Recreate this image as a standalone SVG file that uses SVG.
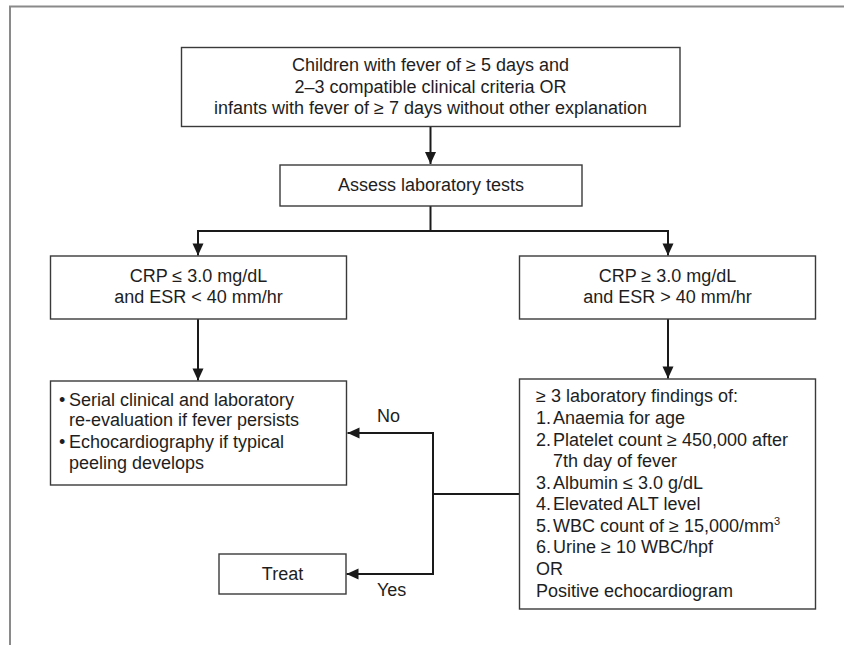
<svg xmlns="http://www.w3.org/2000/svg" width="844" height="645" viewBox="0 0 844 645">
<style>
.box{fill:#fff;stroke:#3a3a3a;stroke-width:1.4}
.t{font-family:"Liberation Sans",Arial,sans-serif;font-size:18px;fill:#1e1e1e}
.c{text-anchor:middle}
.ln{fill:none;stroke:#1a1a1a;stroke-width:2}
.frame{fill:none;stroke:#8a8a8a;stroke-width:2}
</style>
<defs>
<marker id="ah" markerUnits="userSpaceOnUse" markerWidth="14" markerHeight="12" viewBox="0 0 12 12" refX="12" refY="6" orient="auto">
<path d="M0 0.5 L12 6 L0 11.5 Z" fill="#1a1a1a"/>
</marker>
</defs>
<rect width="844" height="645" fill="#fff"/>
<path class="frame" d="M10 645 V6.5 H844"/>

<g id="connectors">
<path class="ln" d="M430.5 127 V164" marker-end="url(#ah)"/>
<path class="ln" d="M430.5 206 V231"/>
<path class="ln" d="M198 231 H668"/>
<path class="ln" d="M198 230 V255.5" marker-end="url(#ah)"/>
<path class="ln" d="M668 230 V255.5" marker-end="url(#ah)"/>
<path class="ln" d="M198 319 V380.5" marker-end="url(#ah)"/>
<path class="ln" d="M668 319 V378.5" marker-end="url(#ah)"/>
<path class="ln" d="M519 494 H433"/>
<path class="ln" d="M433 432 V575"/>
<path class="ln" d="M434 433 H347.5" marker-end="url(#ah)"/>
<path class="ln" d="M434 574 H346.5" marker-end="url(#ah)"/>
<text class="t" x="377" y="422">No</text>
<text class="t" x="377" y="596">Yes</text>
</g>

<g id="n-start">
<rect class="box" x="181.5" y="47.5" width="498.5" height="79"/>
<text class="t c" x="430.5" y="71">Children with fever of ≥ 5 days and</text>
<text class="t c" x="430.5" y="92.5">2–3 compatible clinical criteria OR</text>
<text class="t c" x="430.5" y="114">infants with fever of ≥ 7 days without other explanation</text>
</g>

<g id="n-assess">
<rect class="box" x="280" y="165" width="302" height="41"/>
<text class="t c" x="431" y="191">Assess laboratory tests</text>
</g>

<g id="n-low">
<rect class="box" x="50.5" y="256" width="296" height="63"/>
<text class="t c" x="198.5" y="282">CRP ≤ 3.0 mg/dL</text>
<text class="t c" x="198.5" y="303">and ESR &lt; 40 mm/hr</text>
</g>

<g id="n-high">
<rect class="box" x="519.5" y="256" width="296" height="63"/>
<text class="t c" x="667.5" y="282">CRP ≥ 3.0 mg/dL</text>
<text class="t c" x="667.5" y="303">and ESR &gt; 40 mm/hr</text>
</g>

<g id="n-serial">
<rect class="box" x="50.5" y="381" width="296" height="104"/>
<text class="t" x="59" y="405.5">•</text>
<text class="t" x="69" y="405.5">Serial clinical and laboratory</text>
<text class="t" x="69" y="426">re-evaluation if fever persists</text>
<text class="t" x="59" y="448">•</text>
<text class="t" x="69" y="448">Echocardiography if typical</text>
<text class="t" x="69" y="469">peeling develops</text>
</g>

<g id="n-findings">
<rect class="box" x="519.5" y="379" width="296" height="230"/>
<text class="t" x="536" y="402">≥ 3 laboratory findings of:</text>
<text class="t" x="536" y="424">1.</text><text class="t" x="553" y="424">Anaemia for age</text>
<text class="t" x="536" y="445.5">2.</text><text class="t" x="553" y="445.5">Platelet count ≥ 450,000 after</text>
<text class="t" x="553" y="467">7th day of fever</text>
<text class="t" x="536" y="488.5">3.</text><text class="t" x="553" y="488.5">Albumin ≤ 3.0 g/dL</text>
<text class="t" x="536" y="510">4.</text><text class="t" x="553" y="510">Elevated ALT level</text>
<text class="t" x="536" y="531.5">5.</text><text class="t" x="553" y="531.5">WBC count of ≥ 15,000/mm<tspan font-size="11" dy="-7">3</tspan></text>
<text class="t" x="536" y="553">6.</text><text class="t" x="553" y="553">Urine ≥ 10 WBC/hpf</text>
<text class="t" x="536" y="575">OR</text>
<text class="t" x="536" y="596.5">Positive echocardiogram</text>
</g>

<g id="n-treat">
<rect class="box" x="219" y="554" width="127" height="40"/>
<text class="t c" x="282.5" y="580">Treat</text>
</g>
</svg>
